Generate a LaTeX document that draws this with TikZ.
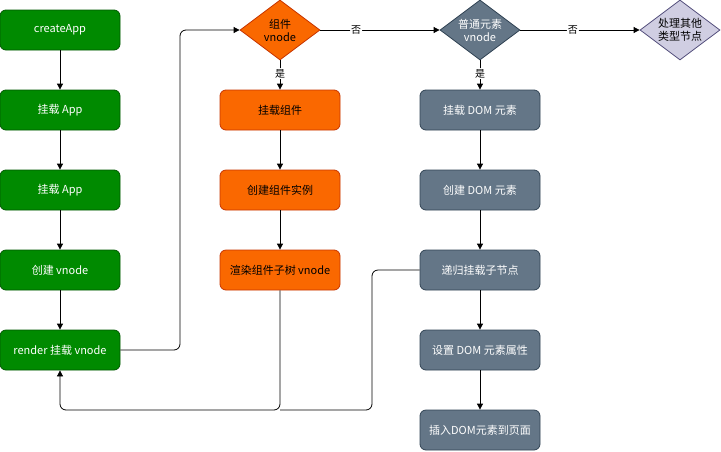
\documentclass[tikz,border=0pt]{standalone}
\usepackage{fontspec}
\setmainfont{Noto Sans CJK SC}
\usetikzlibrary{shapes.geometric,arrows.meta}
\definecolor{gfill}{HTML}{008A00}\definecolor{gline}{HTML}{005700}
\definecolor{ofill}{HTML}{FA6800}\definecolor{oline}{HTML}{C73500}
\definecolor{sfill}{HTML}{647687}\definecolor{sline}{HTML}{314354}
\definecolor{pfill}{HTML}{D0CEE2}\definecolor{pline}{HTML}{56517E}
\begin{document}
\begin{tikzpicture}[x=1pt,y=-1pt,
  font=\fontsize{11}{13}\selectfont,
  box/.style={rectangle,rounded corners=6pt,minimum width=120pt,minimum height=40pt,inner sep=0pt,line width=0.8pt},
  gbox/.style={box,fill=gfill,draw=gline,text=white},
  obox/.style={box,fill=ofill,draw=oline,text=black},
  sbox/.style={box,fill=sfill,draw=sline,text=white},
  dia/.style={diamond,minimum width=80pt,minimum height=60pt,aspect=1.333,inner sep=0pt,line width=0.8pt,align=center,font=\fontsize{11}{13}\selectfont},
  arr/.style={-{Triangle[length=6pt,width=6pt]},line width=0.8pt,rounded corners=6pt},
  ln/.style={line width=0.8pt,rounded corners=6pt},
  lbl/.style={fill=white,inner sep=1pt,font=\fontsize{10}{12}\selectfont}]
\useasboundingbox (0,0) rectangle (721,451);
\node[gbox] (g1) at (60,30) {createApp};
\node[gbox] (g2) at (60,110) {挂载 App};
\node[gbox] (g3) at (60,190) {挂载 App};
\node[gbox] (g4) at (60,270) {创建 vnode};
\node[gbox] (g5) at (60,350) {render 挂载 vnode};
\node[dia,fill=ofill,draw=oline] (d1) at (280,30) {组件\\vnode};
\node[obox] (o1) at (280,110) {挂载组件};
\node[obox] (o2) at (280,190) {创建组件实例};
\node[obox] (o3) at (280,270) {渲染组件子树 vnode};
\node[dia,fill=sfill,draw=sline,text=white] (d2) at (480,30) {普通元素\\vnode};
\node[dia,fill=pfill,draw=pline] (d3) at (680,30) {处理其他\\类型节点};
\node[sbox] (s1) at (480,110) {挂载 DOM 元素};
\node[sbox] (s2) at (480,190) {创建 DOM 元素};
\node[sbox] (s3) at (480,270) {递归挂载子节点};
\node[sbox] (s4) at (480,350) {设置 DOM 元素属性};
\node[sbox] (s5) at (480,430) {插入DOM元素到页面};
\coordinate (m1) at (180,350);
\coordinate (m2) at (180,30);
\coordinate (b1) at (280,410);
\coordinate (b2) at (60,410);
\coordinate (r1) at (372,270);
\coordinate (r2) at (372,410);
\draw[arr] (g1) -- (g2);
\draw[arr] (g2) -- (g3);
\draw[arr] (g3) -- (g4);
\draw[arr] (g4) -- (g5);
\draw[arr] (g5.east) -- (m1) -- (m2) -- (d1.west);
\draw[arr] (d1) -- node[lbl,pos=0.45] {是} (o1);
\draw[arr] (o1) -- (o2);
\draw[arr] (o2) -- (o3);
\draw[arr] (d1) -- node[lbl,pos=0.3] {否} (d2);
\draw[arr] (d2) -- node[lbl,pos=0.44] {否} (d3);
\draw[arr] (d2) -- node[lbl,pos=0.45] {是} (s1);
\draw[arr] (s1) -- (s2);
\draw[arr] (s2) -- (s3);
\draw[arr] (s3) -- (s4);
\draw[arr] (s4) -- (s5);
\draw[arr] (o3.south) -- (b1) -- (b2) -- (g5.south);
\draw[ln] (s3.west) -- (r1) -- (r2) -- (b1);
\end{tikzpicture}
\end{document}
